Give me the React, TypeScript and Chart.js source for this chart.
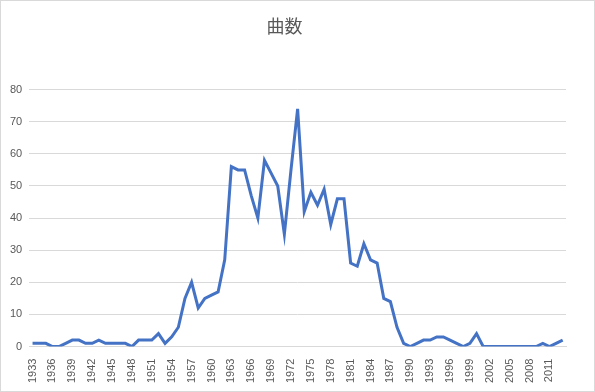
import React, { useEffect, useRef } from "react";
import { Chart, registerables } from "chart.js";

Chart.register(...registerables);

const years: string[] = [];
for (let y = 1933; y <= 2013; y++) years.push(String(y));

const counts = [
  1, 1, 1, 0, 0, 1, 2, 2, 1, 1, // 1933-1942
  2, 1, 1, 1, 1, 0, 2, 2, 2, 4, // 1943-1952
  1, 3, 6, 15, 20, 12, 15, 16, 17, 27, // 1953-1962
  56, 55, 55, 47, 40, 58, 54, 50, 35, 55, // 1963-1972
  74, 42, 48, 44, 49, 38, 46, 46, 26, 25, // 1973-1982
  32, 27, 26, 15, 14, 6, 1, 0, 1, 2, // 1983-1992
  2, 3, 3, 2, 1, 0, 1, 4, 0, 0, // 1993-2002
  0, 0, 0, 0, 0, 0, 0, 1, 0, 1, // 2003-2012
  2, // 2013
];

const title = "曲数";

export default function App() {
  const ref = useRef<HTMLCanvasElement | null>(null);
  useEffect(() => {
    document.body.style.margin = "0";
    const ctx = ref.current!;
    const chart = new Chart(ctx, {
      type: "line",
      data: {
        labels: years,
        datasets: [
          {
            data: counts,
            borderColor: "#4472C4",
            backgroundColor: "#4472C4",
            borderWidth: 3,
            pointRadius: 0,
            tension: 0,
          },
        ],
      },
      options: {
        animation: false,
        responsive: false,
        maintainAspectRatio: false,
        layout: { padding: { left: 2, right: 28, top: 14, bottom: 4 } },
        plugins: {
          legend: { display: false },
          tooltip: { enabled: false },
          title: {
            display: true,
            text: title,
            color: "#595959",
            font: { family: "'Noto Sans CJK JP'", size: 18, weight: "normal" },
            padding: { top: 0, bottom: 53 },
          },
        },
        scales: {
          x: {
            offset: true,
            grid: { display: false },
            border: { display: true, color: "#d9d9d9" },
            ticks: {
              autoSkip: false,
              maxRotation: 90,
              minRotation: 90,
              color: "#595959",
              font: { family: "'Liberation Sans'", size: 11 },
              padding: 4,
              callback: (_v: any, i: number) => (i % 3 === 0 ? years[i] : ""),
            },
          },
          y: {
            min: 0,
            max: 80,
            ticks: {
              stepSize: 10,
              color: "#595959",
              font: { family: "'Liberation Sans'", size: 11 },
              padding: 7,
            },
            grid: { color: "#d9d9d9", drawTicks: false },
            border: { display: false },
          },
        },
      },
    });
    return () => chart.destroy();
  }, []);
  return (
    <div
      style={{
        width: 595,
        height: 392,
        boxSizing: "border-box",
        border: "1px solid #d9d9d9",
        background: "#fff",
      }}
    >
      <canvas ref={ref} width={593} height={390} style={{ display: "block" }} />
    </div>
  );
}
